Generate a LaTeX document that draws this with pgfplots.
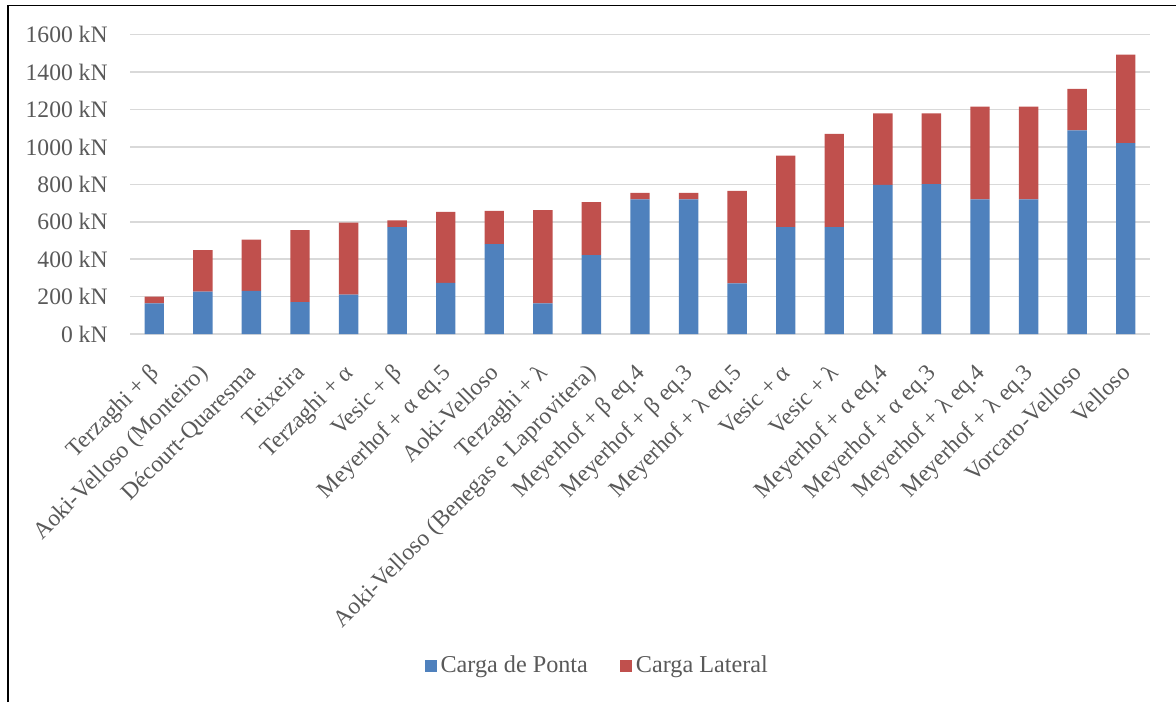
\documentclass[border=0pt]{standalone}
\usepackage{fontspec}
\setmainfont{Liberation Serif}
\usepackage{pgfplots}
\usepackage{pgfplotstable}
\pgfplotsset{compat=1.18}

\definecolor{ponta}{HTML}{4F81BD}
\definecolor{lateral}{HTML}{C0504D}
\definecolor{gridgray}{HTML}{D9D9D9}
\definecolor{txt}{HTML}{595959}

% Carga de ponta e carga lateral por método (kN)
\pgfplotstableread{
x ponta lateral
0  164  36
1  226  223
2  230  275
3  170  385
4  210  385
5  572  36
6  273  380
7  481  177
8  164  498
9  421  284
10 720  34
11 720  34
12 271  494
13 572  382
14 572  498
15 797  382
16 801  378
17 720  496
18 720  496
19 1088 223
20 1020 473
}\cargas

\newcommand{\lbl}{\fontsize{11.8}{14}\selectfont}

\begin{document}
\begin{tikzpicture}
\useasboundingbox (0pt,0pt) rectangle (588pt,351pt);
\draw[line width=0.7pt, black] (4pt,0pt) -- (4pt,348.2pt) -- (588pt,348.2pt);
\begin{axis}[
  at={(65pt,184pt)}, anchor=south west,
  scale only axis,
  width=510pt, height=149.65pt,
  ybar stacked,
  bar width=9.7pt,
  xmin=-0.5, xmax=20.5,
  ymin=0, ymax=1600,
  ytick={0,200,...,1600},
  xtick={0,...,20},
  xticklabels={Terzaghi + β, Aoki-Velloso (Monteiro), Décourt-Quaresma, Teixeira,
    Terzaghi + α, Vesic + β, Meyerhof + α eq.5, Aoki-Velloso, Terzaghi + λ,
    Aoki-Velloso (Benegas e Laprovitera), Meyerhof + β eq.4, Meyerhof + β eq.3,
    Meyerhof + λ eq.5, Vesic + α, Vesic + λ, Meyerhof + α eq.4, Meyerhof + α eq.3,
    Meyerhof + λ eq.4, Meyerhof + λ eq.3, Vorcaro-Velloso, Velloso},
  /pgf/number format/.cd, 1000 sep={}, fixed, precision=0, assume math mode=true,
  /pgfplots/.cd,
  yticklabel={\pgfmathprintnumber{\tick} kN},
  axis line style={draw=none},
  major tick length=0pt,
  ymajorgrids,
  grid style={gridgray, line width=0.75pt},
  yticklabel style={anchor=east, inner sep=0pt, xshift=-11pt, font=\lbl, text=txt},
  xticklabel style={font=\lbl, text=txt, inner sep=0pt, anchor=base east,
    xshift=3pt, yshift=-20pt, rotate=45},
  legend style={at={(0.459,-1.109)}, anchor=center, draw=none, fill=none,
    legend columns=2, font=\fontsize{12.1}{14}\selectfont, text=txt, inner sep=0pt,
    /tikz/every even column/.append style={column sep=14pt}},
  legend image code/.code={\fill[#1] (0pt,-3pt) rectangle (6pt,3pt);},
]
\addplot[fill=ponta, draw=none] table[x=x, y=ponta]{\cargas};
\addplot[fill=lateral, draw=none] table[x=x, y=lateral]{\cargas};
\legend{Carga de Ponta, Carga Lateral}
\end{axis}
\end{tikzpicture}
\end{document}
